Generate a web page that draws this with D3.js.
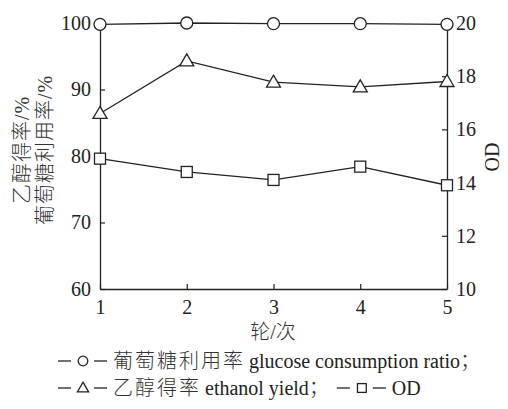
<!DOCTYPE html>
<html><head><meta charset="utf-8">
<script src="https://cdn.jsdelivr.net/npm/d3@7"></script>
<style>
body{margin:0;background:#fff;}
text{font-family:"Liberation Serif","Noto Sans CJK SC",serif;fill:#222;}
.cjk{font-weight:300;fill:#333;}
</style></head>
<body><svg id="c" width="508" height="409"></svg>
<script>
const rounds = [1, 2, 3, 4, 5];
const glucose = [99.8, 100.0, 99.9, 99.9, 99.8];
const ethanol = [86.4, 94.3, 91.1, 90.4, 91.2];
const od = [14.9, 14.4, 14.1, 14.6, 13.9];
const leftTicks = [60, 70, 80, 90, 100];
const rightTicks = [10, 12, 14, 16, 18, 20];
const xLabel = "轮/次";
const yLeftLabels = ["乙醇得率/%", "葡萄糖利用率/%"];
const yRightLabel = "OD";

const svg = d3.select("#c");
const L = 100, R = 447, T = 23, B = 289;
const x = d3.scaleLinear().domain([1, 5]).range([L, R]);
const yl = d3.scaleLinear().domain([60, 100]).range([B, T]);
const yr = d3.scaleLinear().domain([10, 20]).range([B, T]);
const col = "#222";

// axes
const gL = svg.append("g").attr("transform", `translate(${L},0)`)
  .call(d3.axisLeft(yl).tickValues(leftTicks).tickSizeInner(-5).tickSizeOuter(0).tickPadding(9));
const gR = svg.append("g").attr("transform", `translate(${R},0)`)
  .call(d3.axisRight(yr).tickValues(rightTicks).tickSizeInner(-5).tickSizeOuter(0).tickPadding(9));
const gB = svg.append("g").attr("transform", `translate(0,${B})`)
  .call(d3.axisBottom(x).tickValues(rounds).tickFormat(d3.format("d")).tickSizeInner(-5).tickSizeOuter(0).tickPadding(11));
[gL, gR, gB].forEach(g => {
  g.selectAll("path.domain").attr("stroke", col).attr("stroke-width", 1.3);
  g.selectAll(".tick line").attr("stroke", col).attr("stroke-width", 1.2);
  g.selectAll(".tick text").attr("font-size", 20).attr("font-family", "Liberation Serif").attr("fill", col);
});
gB.selectAll(".tick text").attr("dy", "0.71em");

// lines
const line = (ys, data) => d3.line().x((d, i) => x(rounds[i])).y(d => ys(d))(data);
[[yl, glucose], [yl, ethanol], [yr, od]].forEach(([s, d]) => {
  svg.append("path").attr("d", line(s, d)).attr("fill", "none").attr("stroke", col).attr("stroke-width", 1.3);
});

// markers
function marker(g, type, cx, cy, k) {
  k = k || 1;
  if (type === "circle") {
    g.append("circle").attr("cx", cx).attr("cy", cy).attr("r", 6 * k)
      .attr("fill", "#fff").attr("stroke", col).attr("stroke-width", 1.3);
  } else if (type === "tri") {
    const w = 7 * k, h = 6 * k;
    g.append("path").attr("d", `M${cx},${cy - h - 1}L${cx + w},${cy + h - 1}L${cx - w},${cy + h - 1}Z`)
      .attr("fill", "#fff").attr("stroke", col).attr("stroke-width", 1.3);
  } else {
    const s = 5.5 * k;
    g.append("rect").attr("x", cx - s).attr("y", cy - s).attr("width", 2 * s).attr("height", 2 * s)
      .attr("fill", "#fff").attr("stroke", col).attr("stroke-width", 1.3);
  }
}
glucose.forEach((v, i) => marker(svg, "circle", x(rounds[i]), yl(v)));
ethanol.forEach((v, i) => marker(svg, "tri", x(rounds[i]), yl(v)));
od.forEach((v, i) => marker(svg, "rect", x(rounds[i]), yr(v)));

// axis titles
svg.append("text").attr("class", "cjk").attr("transform", "translate(29,150) rotate(-90)")
  .attr("text-anchor", "middle").attr("font-size", 20).style("letter-spacing", "1px").text(yLeftLabels[0]);
svg.append("text").attr("class", "cjk").attr("transform", "translate(52,150) rotate(-90)")
  .attr("text-anchor", "middle").attr("font-size", 20).style("letter-spacing", "1px").text(yLeftLabels[1]);
svg.append("text").attr("transform", "translate(499,157) rotate(-90)")
  .attr("text-anchor", "middle").attr("font-size", 20).text(yRightLabel);
svg.append("text").attr("class", "cjk").attr("x", 273).attr("y", 339).attr("text-anchor", "middle")
  .attr("font-size", 20).text(xLabel);

// legend
function legendLine(y, items) {
  let cx = 58;
  items.forEach(it => {
    if (it.sym) {
      svg.append("line").attr("x1", cx).attr("x2", cx + 13).attr("y1", y).attr("y2", y).attr("stroke", col).attr("stroke-width", 1.3);
      marker(svg, it.sym, cx + 25, y, 0.8);
      svg.append("line").attr("x1", cx + 36).attr("x2", cx + 49).attr("y1", y).attr("y2", y).attr("stroke", col).attr("stroke-width", 1.3);
      cx += 55;
    } else {
      const t = svg.append("text").attr("x", cx).attr("y", y + 7).attr("font-size", it.size || 20)
        .attr("class", it.cjk ? "cjk" : null)
        .style("letter-spacing", it.ls || "0px").text(it.text);
      cx += t.node().getComputedTextLength() + (it.gap || 0);
    }
  });
}
legendLine(361, [
  {sym: "circle"},
  {text: "葡萄糖利用率", ls: "2px", gap: 4, cjk: true},
  {text: "glucose consumption ratio", gap: 0},
  {text: "；", cjk: true}
]);
legendLine(388, [
  {sym: "tri"},
  {text: "乙醇得率", ls: "2px", gap: 4, cjk: true},
  {text: "ethanol yield", gap: 0},
  {text: "；", gap: 8, cjk: true},
  {sym: "rect"},
  {text: "OD"}
]);
</script></body></html>
